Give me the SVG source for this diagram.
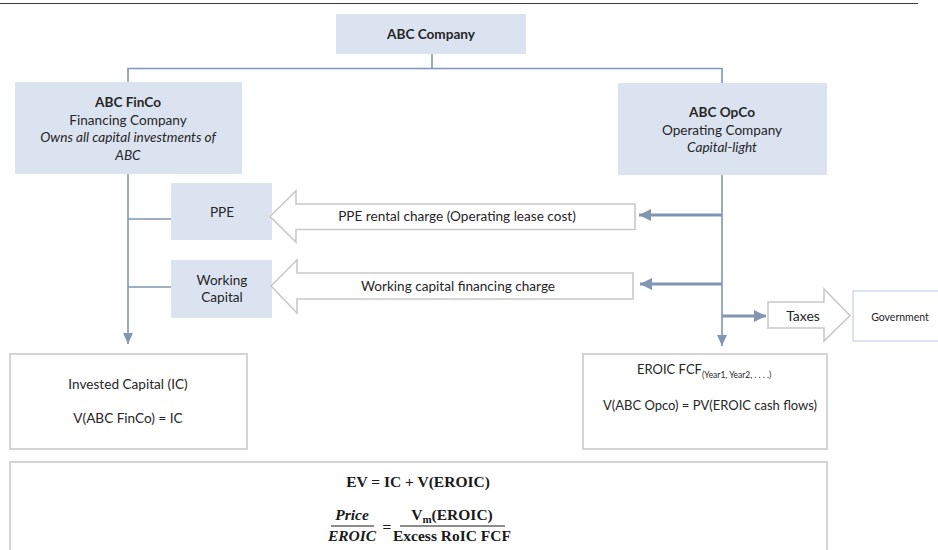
<svg xmlns="http://www.w3.org/2000/svg" width="938" height="550" viewBox="0 0 938 550">
<style>
.fill{fill:#dbe3f1;}
.box{fill:#ffffff;stroke:#d4d4d4;stroke-width:2;}
.blk{fill:#ffffff;stroke:#c9c9c9;stroke-width:1.6;}
.t{font-family:Lato,"Open Sans",sans-serif;font-size:13.6px;fill:#262626;text-anchor:middle;}
.b{font-weight:bold;}
.i{font-style:italic;}
.c{fill:none;stroke:#8096b3;stroke-width:1.6;}
.k{fill:none;stroke:#8096b3;stroke-width:3.2;}
.m{font-family:"Liberation Serif","DejaVu Serif",serif;font-weight:bold;font-size:15.5px;fill:#1a1a1a;}
</style>
<defs>
<marker id="ad" markerUnits="userSpaceOnUse" markerWidth="12" markerHeight="12" viewBox="0 0 12 12" refX="11" refY="6" orient="auto">
<path d="M0,1 L11,6 L0,11 Z" fill="#8096b3"/>
</marker>
<marker id="ak" markerUnits="userSpaceOnUse" markerWidth="14" markerHeight="14" viewBox="0 0 14 14" refX="12" refY="7" orient="auto">
<path d="M0,1 L12,7 L0,13 Z" fill="#8096b3"/>
</marker>
</defs>
<rect width="938" height="550" fill="#ffffff"/>
<line x1="0" y1="3.5" x2="918" y2="3.5" stroke="#3a3a3a" stroke-width="1.2"/>

<g id="connectors">
<path class="c" d="M432,54 V68.5 M128,82 V68.5 H722 V83"/>
<path class="c" d="M128,174 V344" marker-end="url(#ad)"/>
<path class="c" d="M128,219 H171 M128,287 H171"/>
<path class="c" d="M722,175 V346" marker-end="url(#ad)"/>
<path class="k" d="M722,215 H639" marker-end="url(#ak)"/>
<path class="k" d="M722,284 H640" marker-end="url(#ak)"/>
<path class="k" d="M722,316 H766" marker-end="url(#ak)"/>
</g>

<g id="abc-company">
<rect class="fill" x="336" y="14" width="190" height="40"/>
<text class="t b" x="431" y="39">ABC Company</text>
</g>

<g id="abc-finco">
<rect class="fill" x="15" y="82" width="227" height="92"/>
<text class="t b" x="128" y="107">ABC FinCo</text>
<text class="t" x="128" y="125">Financing Company</text>
<text class="t i" x="128" y="142">Owns all capital investments of</text>
<text class="t i" x="128" y="160">ABC</text>
</g>

<g id="abc-opco">
<rect class="fill" x="618" y="83" width="209" height="92"/>
<text class="t b" x="722" y="117">ABC OpCo</text>
<text class="t" x="722" y="135">Operating Company</text>
<text class="t i" x="722" y="152">Capital-light</text>
</g>

<g id="ppe">
<rect class="fill" x="171" y="183" width="101" height="57"/>
<text class="t" x="222" y="217">PPE</text>
</g>

<g id="working-capital">
<rect class="fill" x="171" y="260" width="101" height="58"/>
<text class="t" x="222" y="285">Working</text>
<text class="t" x="222" y="302">Capital</text>
</g>

<g id="ppe-rental-charge">
<path class="blk" d="M270,216.5 L296,191 V204 H635 V229.5 H296 V242 Z"/>
<text class="t" x="457" y="221">PPE rental charge (Operating lease cost)</text>
</g>

<g id="working-capital-charge">
<path class="blk" d="M271,286 L297,260 V273 H633 V299 H297 V313 Z"/>
<text class="t" x="458" y="291">Working capital financing charge</text>
</g>

<g id="taxes">
<path class="blk" d="M768,302 H824 V289 L850,315.5 L824,341 V328 H768 Z"/>
<text class="t" x="803" y="321" style="font-size:14px">Taxes</text>
</g>

<g id="government">
<rect x="853" y="291" width="90" height="50" fill="#ffffff" stroke="#d3ddef" stroke-width="1.6"/>
<text class="t" x="900" y="321" style="font-size:10.5px">Government</text>
</g>

<g id="invested-capital">
<rect class="box" x="10" y="354" width="237" height="95"/>
<text class="t" x="128" y="389">Invested Capital (IC)</text>
<text class="t" x="128" y="423">V(ABC FinCo) = IC</text>
</g>

<g id="eroic">
<rect class="box" x="583" y="354" width="244" height="95"/>
<text class="t" x="637" y="374" style="text-anchor:start;font-size:13px">EROIC FCF<tspan dy="4" style="font-size:8.5px">(Year1, Year2,  . . . .)</tspan></text>
<text class="t" x="710" y="410" style="font-size:13px">V(ABC Opco) =  PV(EROIC  cash  flows)</text>
</g>

<g id="ev-formula">
<rect class="box" x="10" y="462" width="817" height="100"/>
<text class="m" x="418" y="487" text-anchor="middle">EV = IC + V(EROIC)</text>
<text class="m" x="352" y="520" text-anchor="middle" font-style="italic">Price</text>
<line x1="331" y1="526" x2="374" y2="526" stroke="#1a1a1a" stroke-width="1"/>
<text class="m" x="352" y="541" text-anchor="middle" font-style="italic">EROIC</text>
<text class="m" x="387" y="532" text-anchor="middle" font-weight="normal">=</text>
<text class="m" x="452" y="520" text-anchor="middle">V<tspan dy="3" font-size="11">m</tspan><tspan dy="-3">(EROIC)</tspan></text>
<line x1="400" y1="526" x2="505" y2="526" stroke="#1a1a1a" stroke-width="1"/>
<text class="m" x="452" y="541" text-anchor="middle">Excess RoIC FCF</text>
</g>
</svg>
